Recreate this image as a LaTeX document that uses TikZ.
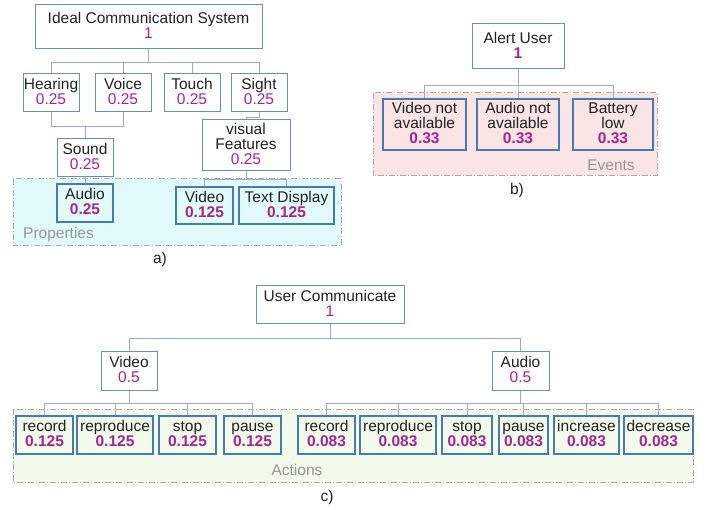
\documentclass[tikz,border=0pt]{standalone}
\usepackage{fontspec}
\setmainfont{Liberation Sans}
\definecolor{boxc}{RGB}{108,142,191}
\definecolor{leafc}{RGB}{74,120,176}
\definecolor{conc}{RGB}{150,172,205}
\definecolor{txt}{RGB}{34,34,34}
\definecolor{val}{RGB}{162,38,146}
\definecolor{propfill}{RGB}{225,250,252}
\definecolor{evfill}{RGB}{251,228,228}
\definecolor{actfill}{RGB}{242,250,236}
\definecolor{regc}{RGB}{170,170,170}
\definecolor{labc}{RGB}{150,150,150}
\newcommand{\tup}{\rule{0pt}{11.5pt}}
\newcommand{\dn}{\rule[-3.2pt]{0pt}{3.2pt}}
\begin{document}
\begin{tikzpicture}[x=1pt,y=-1pt,
  every node/.style={font=\fontsize{15.5}{15}\selectfont, text=txt, align=center, inner sep=0pt},
  box/.style={draw=boxc, line width=1pt, fill=white, rectangle},
  leaf/.style={draw=leafc, line width=1.3pt, rectangle},
  conn/.style={draw=conc, line width=1pt},
  region/.style={draw=regc, line width=1pt, dash pattern=on 6pt off 2pt on 1pt off 2pt},
  reglabel/.style={text=labc},
  sz/.style 2 args={minimum width=#1pt, minimum height=#2pt}
]
\useasboundingbox (0,0) rectangle (709,510);
% regions
\path[region, fill=propfill] (13,179) rectangle (341,246);
\path[region, fill=evfill] (373,93) rectangle (657,176);
\path[region, fill=actfill] (13,409) rectangle (693,482);
\node[reglabel, anchor=west] (proplab) at (23,234) {Properties};
\node[reglabel] (evlab) at (611,165) {Events};
\node[reglabel] (actlab) at (297,470) {Actions};

% a)
\node[box, sz={227}{44}] (ics) at (148.5,27) {\tup Ideal Communication System\\\textcolor{val}{1}\dn};
\node[box, sz={56}{38}] (hear) at (51,93) {\tup Hearing\\\textcolor{val}{0.25}\dn};
\node[box, sz={56}{38}] (voice) at (123,93) {\tup Voice\\\textcolor{val}{0.25}\dn};
\node[box, sz={56}{38}] (touch) at (192,93) {\tup Touch\\\textcolor{val}{0.25}\dn};
\node[box, sz={56}{38}] (sight) at (259,93) {\tup Sight\\\textcolor{val}{0.25}\dn};
\node[box, sz={56}{38}] (sound) at (85,158) {\tup Sound\\\textcolor{val}{0.25}\dn};
\node[box, sz={88}{51}] (vf) at (246,145.5) {\tup visual\\Features\\\textcolor{val}{0.25}\dn};
\node[leaf, sz={56}{38}] (audA) at (85,203) {\tup Audio\\\textcolor{val}{\bfseries 0.25}\dn};
\node[leaf, sz={57}{37}] (vidA) at (204.5,205.5) {\tup Video\\\textcolor{val}{\bfseries 0.125}\dn};
\node[leaf, sz={95}{37}] (textd) at (286.5,205.5) {\tup Text Display\\\textcolor{val}{\bfseries 0.125}\dn};
\node (la) at (160,259) {a)};

\foreach \c in {hear,voice,touch,sight}
  \draw[conn] (ics.south) -- ++(0,13) -| (\c.north);
\draw[conn] (hear.south) -- ++(0,14) -| (sound.north);
\draw[conn] (voice.south) -- ++(0,14) -| (sound.north);
\draw[conn] (sight.south) -- ++(0,5) -| (vf.north);
\draw[conn] (sound.south) -- (audA.north);
\draw[conn] (vf.south) -- ++(0,8) -| (vidA.north);
\draw[conn] (vf.south) -- ++(0,8) -| (textd.north);

% b)
\node[box, sz={92}{45}] (alert) at (518,46.5) {\tup Alert User\\\textcolor{val}{\bfseries 1}\dn};
\node[leaf, sz={83}{51}] (vna) at (424.5,124.5) {\tup Video not\\available\\\textcolor{val}{\bfseries 0.33}\dn};
\node[leaf, sz={82}{51}] (ana) at (518,124.5) {\tup Audio not\\available\\\textcolor{val}{\bfseries 0.33}\dn};
\node[leaf, sz={80}{51}] (bat) at (613,124.5) {\tup Battery\\low\\\textcolor{val}{\bfseries 0.33}\dn};
\node (lb) at (517,190) {b)};
\foreach \c in {vna,ana,bat}
  \draw[conn] (alert.south) -- ++(0,16) -| (\c.north);

% c)
\node[box, sz={148}{38}] (uc) at (330,305) {\tup User Communicate\\\textcolor{val}{1}\dn};
\node[box, sz={56}{39}] (vidC) at (129,370.5) {\tup Video\\\textcolor{val}{0.5}\dn};
\node[box, sz={57}{39}] (audC) at (520.5,370.5) {\tup Audio\\\textcolor{val}{0.5}\dn};
\node[leaf, sz={57}{38}] (rec1) at (44.5,435) {\tup record\\\textcolor{val}{\bfseries 0.125}\dn};
\node[leaf, sz={76}{38}] (rep1) at (115,435) {\tup reproduce\\\textcolor{val}{\bfseries 0.125}\dn};
\node[leaf, sz={57}{38}] (stop1) at (187.5,435) {\tup stop\\\textcolor{val}{\bfseries 0.125}\dn};
\node[leaf, sz={57}{38}] (pause1) at (252.5,435) {\tup pause\\\textcolor{val}{\bfseries 0.125}\dn};
\node[leaf, sz={57}{38}] (rec2) at (326.5,435) {\tup record\\\textcolor{val}{\bfseries 0.083}\dn};
\node[leaf, sz={76}{38}] (rep2) at (398,435) {\tup reproduce\\\textcolor{val}{\bfseries 0.083}\dn};
\node[leaf, sz={50}{38}] (stop2) at (467,435) {\tup stop\\\textcolor{val}{\bfseries 0.083}\dn};
\node[leaf, sz={49}{38}] (pause2) at (523.5,435) {\tup pause\\\textcolor{val}{\bfseries 0.083}\dn};
\node[leaf, sz={65}{38}] (inc) at (586.5,435) {\tup increase\\\textcolor{val}{\bfseries 0.083}\dn};
\node[leaf, sz={69}{38}] (dec) at (658.5,435) {\tup decrease\\\textcolor{val}{\bfseries 0.083}\dn};
\node (lc) at (327,497) {c)};
\foreach \c in {vidC,audC}
  \draw[conn] (uc.south) -- ++(0,14) -| (\c.north);
\foreach \c in {rec1,rep1,stop1,pause1}
  \draw[conn] (vidC.south) -- ++(0,13) -| (\c.north);
\foreach \c in {rec2,rep2,stop2,pause2,inc,dec}
  \draw[conn] (audC.south) -- ++(0,13) -| (\c.north);
\end{tikzpicture}
\end{document}
